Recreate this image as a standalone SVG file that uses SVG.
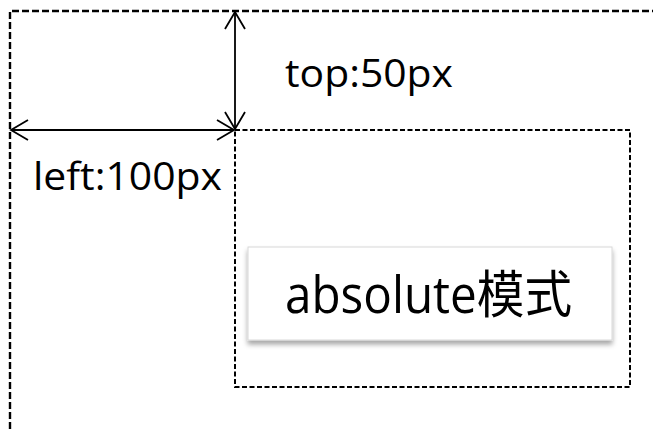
<svg xmlns="http://www.w3.org/2000/svg" width="653" height="429" viewBox="0 0 653 429">
<style>
.outer{fill:none;stroke:#000;stroke-width:2.4;stroke-dasharray:7 3}
.inner{fill:none;stroke:#000;stroke-width:2;stroke-dasharray:5 2.5}
.dim{fill:none;stroke:#000;stroke-width:1.8}
.lbl{font-family:"Open Sans","Noto Sans CJK SC",sans-serif;fill:#000}
</style>
<defs>
<marker id="open" viewBox="0 0 20 24" refX="18" refY="12" markerWidth="20" markerHeight="24" markerUnits="userSpaceOnUse" orient="auto-start-reverse">
<path d="M1,2 L18,12 L1,22" fill="none" stroke="#000" stroke-width="1.8"/>
</marker>
<filter id="sh" x="-10%" y="-20%" width="120%" height="150%">
<feDropShadow dx="0" dy="4" stdDeviation="2.5" flood-color="#000" flood-opacity="0.35"/>
</filter>
</defs>
<g id="outer-box"><path class="outer" d="M10,429 V11 H653"/></g>
<g id="inner-box"><rect class="inner" x="235" y="130" width="395" height="257"/></g>
<g id="connectors">
<line class="dim" x1="235" y1="129" x2="235" y2="12" marker-start="url(#open)" marker-end="url(#open)"/>
<line class="dim" x1="234" y1="130" x2="11" y2="130" marker-start="url(#open)" marker-end="url(#open)"/>
</g>
<g id="label-top"><text class="lbl" x="285" y="87" font-size="39" textLength="168" lengthAdjust="spacingAndGlyphs">top:50px</text></g>
<g id="label-left"><text class="lbl" x="33" y="190" font-size="39" textLength="189" lengthAdjust="spacingAndGlyphs">left:100px</text></g>
<g id="absolute-node">
<rect x="248" y="247" width="364" height="93" fill="#fff" stroke="#d8d8d8" stroke-width="1" filter="url(#sh)"/>
<text class="lbl" x="285" y="313" font-size="51" textLength="287" lengthAdjust="spacingAndGlyphs">absolute模式</text>
</g>
</svg>
